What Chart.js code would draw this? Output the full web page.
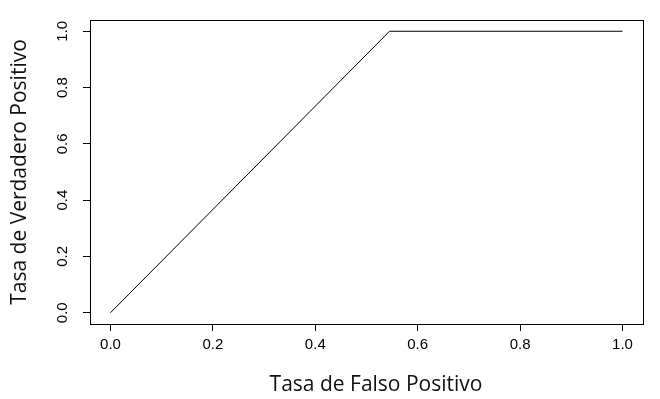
<!DOCTYPE html>
<html>
<head>
<meta charset="utf-8">
<script src="https://cdn.jsdelivr.net/npm/chart.js@4"></script>
<style>
  html, body { margin: 0; padding: 0; background: #fff; }
</style>
</head>
<body>
<canvas id="roc" width="660" height="399"></canvas>
<script>
// curva ROC
const fpr = [0.0, 0.545, 1.0];
const tpr = [0.0, 1.0, 1.0];
const xTicks = [0, 0.2, 0.4, 0.6, 0.8, 1.0];
const yTicks = [0, 0.2, 0.4, 0.6, 0.8, 1.0];
const xTitle = 'Tasa de Falso Positivo';
const yTitle = 'Tasa de Verdadero Positivo';

const tickFont = '15px "Liberation Sans", Arial, sans-serif';
const titleFont = '21px "Open Sans", "Noto Sans", sans-serif';

// caja, etiquetas del eje y y titulos
const rPlot = {
  id: 'rPlot',
  afterDraw(chart) {
    const ctx = chart.ctx;
    const a = chart.chartArea;
    const ys = chart.scales.y;
    ctx.save();
    ctx.strokeStyle = '#000';
    ctx.lineWidth = 1;
    ctx.strokeRect(a.left + 0.5, a.top + 0.5, a.right - a.left, a.bottom - a.top);

    ctx.fillStyle = '#000';
    ctx.font = tickFont;
    ctx.textAlign = 'center';
    ctx.textBaseline = 'middle';
    yTicks.forEach(v => {
      ctx.save();
      ctx.translate(63, ys.getPixelForValue(v));
      ctx.rotate(-Math.PI / 2);
      ctx.fillText(v.toFixed(1), 0, 0);
      ctx.restore();
    });

    ctx.font = titleFont;
    ctx.fillStyle = '#111';
    ctx.fillText(xTitle, 376, 385);
    ctx.save();
    ctx.translate(20, (a.top + a.bottom) / 2);
    ctx.rotate(-Math.PI / 2);
    ctx.fillText(yTitle, 0, 0);
    ctx.restore();
    ctx.restore();
  }
};

new Chart(document.getElementById('roc'), {
  type: 'scatter',
  data: {
    datasets: [{
      data: fpr.map((x, i) => ({ x: x, y: tpr[i] })),
      showLine: true,
      borderColor: '#000',
      borderWidth: 1,
      pointRadius: 0,
      tension: 0
    }]
  },
  options: {
    responsive: false,
    animation: false,
    layout: { padding: { left: 0, right: 17, top: 20, bottom: 0 } },
    plugins: { legend: { display: false }, tooltip: { enabled: false } },
    scales: {
      x: {
        type: 'linear',
        min: -0.04, max: 1.04,
        afterBuildTicks: s => { s.ticks = xTicks.map(v => ({ value: v })); },
        afterFit: s => { s.height = 75; },
        border: { display: false },
        grid: { drawOnChartArea: false, drawTicks: true, tickLength: 7, color: '#000' },
        ticks: {
          color: '#000',
          padding: 5,
          maxRotation: 0,
          font: { family: '"Liberation Sans", Arial, sans-serif', size: 15 },
          callback: v => v.toFixed(1)
        }
      },
      y: {
        type: 'linear',
        min: -0.04, max: 1.04,
        afterBuildTicks: s => { s.ticks = yTicks.map(v => ({ value: v })); },
        afterFit: s => { s.width = 90; },
        border: { display: false },
        grid: { drawOnChartArea: false, drawTicks: true, tickLength: 7, color: '#000' },
        ticks: { display: false }
      }
    }
  },
  plugins: [rPlot]
});
</script>
</body>
</html>
